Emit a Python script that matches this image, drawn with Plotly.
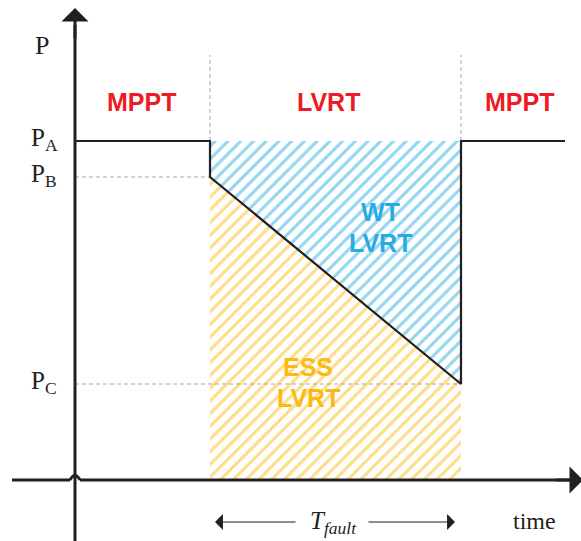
import plotly.graph_objects as go

# ---- conceptual data (time units, power units) ----
t_fault_start = 1.35
t_fault_end = 3.86
t_end = 4.90
P_A = 3.39
P_B = 3.03
P_C = 0.96

curve_t = [0, t_fault_start, t_fault_start, t_fault_end, t_fault_end, t_end]
curve_P = [P_A, P_A, P_B, P_C, P_A, P_A]

wt_t = [t_fault_start, t_fault_end, t_fault_end, t_fault_start, t_fault_start]
wt_P = [P_A, P_A, P_C, P_B, P_A]

ess_t = [t_fault_start, t_fault_end, t_fault_end, t_fault_start, t_fault_start]
ess_P = [P_B, P_C, 0, 0, P_B]

region_labels = ["MPPT", "LVRT", "MPPT"]
region_centers = [0.66, 2.53, 4.44]
level_labels = ["P<sub>A</sub>", "P<sub>B</sub>", "P<sub>C</sub>"]
level_values = [P_A, P_B, P_C]

# axis ranges
X_MIN, X_MAX = -0.75, 5.06
Y_MIN, Y_MAX = -0.61, 4.80

INK = "#231f20"
RED = "#ed1c24"
BLUE = "#29abe2"
YELLOW = "#fdb913"
GRAY = "#a8a8a8"

fig = go.Figure()

fig.add_trace(go.Scatter(x=ess_t, y=ess_P, mode="lines", fill="toself",
                         line=dict(width=0), fillcolor="rgba(0,0,0,0)",
                         fillpattern=dict(shape="/", size=9, solidity=0.34,
                                          fgcolor=YELLOW, bgcolor="white"),
                         hoverinfo="skip", showlegend=False))
fig.add_trace(go.Scatter(x=wt_t, y=wt_P, mode="lines", fill="toself",
                         line=dict(width=0), fillcolor="rgba(0,0,0,0)",
                         fillpattern=dict(shape="/", size=9, solidity=0.34,
                                          fgcolor=BLUE, bgcolor="white"),
                         hoverinfo="skip", showlegend=False))

# dashed guide lines
fig.add_trace(go.Scatter(x=[0, t_fault_start], y=[P_B, P_B], mode="lines",
                         line=dict(color=GRAY, width=1, dash="4px,3px"),
                         hoverinfo="skip", showlegend=False))
fig.add_trace(go.Scatter(x=[0, t_fault_end], y=[P_C, P_C], mode="lines",
                         line=dict(color=GRAY, width=1, dash="4px,3px"),
                         hoverinfo="skip", showlegend=False))
for tv in [t_fault_start, t_fault_end]:
    fig.add_trace(go.Scatter(x=[tv, tv], y=[P_A, 4.25], mode="lines",
                             line=dict(color=GRAY, width=1, dash="4px,3px"),
                             hoverinfo="skip", showlegend=False))

# power curve
fig.add_trace(go.Scatter(x=curve_t, y=curve_P, mode="lines",
                         line=dict(color=INK, width=2.2),
                         hoverinfo="skip", showlegend=False))

# axes drawn as shapes / arrows
fig.add_shape(type="line", x0=0, x1=0, y0=Y_MIN, y1=4.55, xref="x", yref="y",
              line=dict(color=INK, width=3))
fig.add_annotation(x=0, y=4.72, ax=0, ay=4.4, xref="x", yref="y", axref="x", ayref="y",
                   text="", showarrow=True, arrowhead=1, arrowsize=1.5, arrowwidth=3,
                   arrowcolor=INK)
hop = 0.05
fig.add_shape(type="line", x0=-0.63, x1=-hop, y0=0, y1=0, xref="x", yref="y",
              line=dict(color=INK, width=3))
fig.add_shape(type="path", path=f"M {-hop},0 Q 0,0.09 {hop},0", xref="x", yref="y",
              line=dict(color=INK, width=3))
fig.add_shape(type="line", x0=hop, x1=4.95, y0=0, y1=0, xref="x", yref="y",
              line=dict(color=INK, width=3))
fig.add_annotation(x=5.08, y=0, ax=4.8, ay=0, xref="x", yref="y", axref="x", ayref="y",
                   text="", showarrow=True, arrowhead=1, arrowsize=1.5, arrowwidth=3,
                   arrowcolor=INK)

# T_fault arrows
fig.add_annotation(x=t_fault_start + 0.05, y=-0.42, ax=2.22, ay=-0.42,
                   xref="x", yref="y", axref="x", ayref="y", text="", showarrow=True,
                   arrowhead=1, arrowsize=2.2, arrowwidth=1.2, arrowcolor=INK)
fig.add_annotation(x=t_fault_end - 0.06, y=-0.42, ax=2.92, ay=-0.42,
                   xref="x", yref="y", axref="x", ayref="y", text="", showarrow=True,
                   arrowhead=1, arrowsize=2.2, arrowwidth=1.2, arrowcolor=INK)
fig.add_annotation(x=2.58, y=-0.42, xref="x", yref="y", showarrow=False,
                   text="<i>T</i><sub><i>fault</i></sub>",
                   font=dict(family="Liberation Serif", size=25, color=INK))
fig.add_annotation(x=4.59, y=-0.41, xref="x", yref="y", showarrow=False, text="time",
                   font=dict(family="Liberation Serif", size=24, color=INK))

# P labels
fig.add_annotation(x=-0.33, y=4.35, xref="x", yref="y", showarrow=False, text="P",
                   font=dict(family="Liberation Serif", size=26, color=INK))
for lab, val in zip(level_labels, level_values):
    fig.add_annotation(x=-0.31, y=val + 0.02, xref="x", yref="y", showarrow=False,
                       text=lab, font=dict(family="Liberation Serif", size=25, color=INK))

# region labels
for lab, xc in zip(region_labels, region_centers):
    fig.add_annotation(x=xc, y=3.78, xref="x", yref="y",
                       showarrow=False, text=f"<b>{lab}</b>",
                       font=dict(family="Liberation Sans", size=25, color=RED))

fig.add_annotation(x=3.05, y=2.68, xref="x", yref="y", showarrow=False, text="<b>WT</b>",
                   font=dict(family="Liberation Sans", size=25, color=BLUE))
fig.add_annotation(x=3.05, y=2.37, xref="x", yref="y", showarrow=False, text="<b>LVRT</b>",
                   font=dict(family="Liberation Sans", size=25, color=BLUE))
fig.add_annotation(x=2.33, y=1.13, xref="x", yref="y", showarrow=False, text="<b>ESS</b>",
                   font=dict(family="Liberation Sans", size=25, color=YELLOW))
fig.add_annotation(x=2.33, y=0.82, xref="x", yref="y", showarrow=False, text="<b>LVRT</b>",
                   font=dict(family="Liberation Sans", size=25, color=YELLOW))

fig.update_layout(
    width=581, height=541,
    margin=dict(l=0, r=0, t=0, b=0),
    paper_bgcolor="white", plot_bgcolor="white",
    xaxis=dict(range=[X_MIN, X_MAX], visible=False, fixedrange=True),
    yaxis=dict(range=[Y_MIN, Y_MAX], visible=False, fixedrange=True),
    showlegend=False,
)

fig.write_html("out.html")
